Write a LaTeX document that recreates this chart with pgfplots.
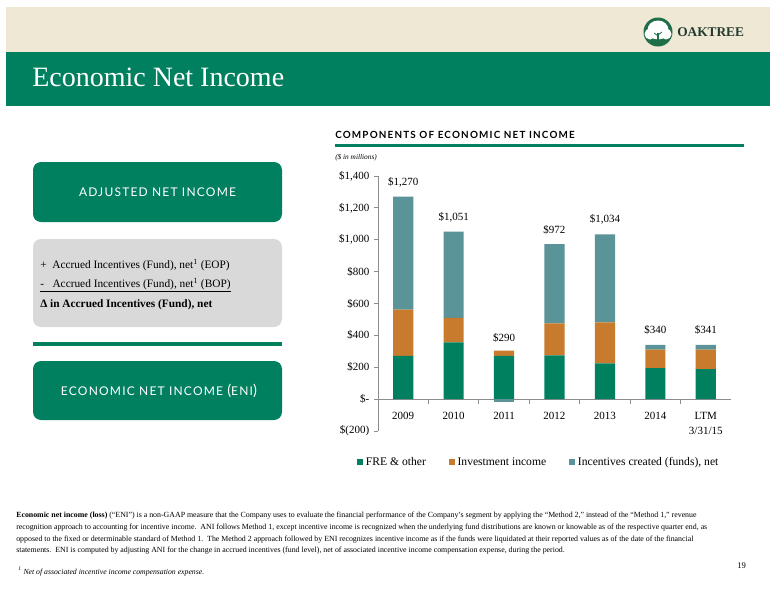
\documentclass[border=0pt]{standalone}
\usepackage{fontspec}
\setmainfont{Liberation Serif}
\newfontfamily\boxfont[LetterSpace=10]{Lato}
\newfontfamily\titlefont[LetterSpace=12]{Lato}
\usepackage{pgfplots}
\pgfplotsset{compat=1.18}
\usepackage{pgfplotstable}
\definecolor{oakgreen}{HTML}{00805F}
\definecolor{freg}{HTML}{00805F}
\definecolor{invor}{HTML}{C87B2C}
\definecolor{incteal}{HTML}{5A9398}
\definecolor{beige}{HTML}{EEE8D5}
\definecolor{boxgrey}{HTML}{D9D9D9}
\definecolor{axgrey}{HTML}{8C8C8C}
\definecolor{logogreen}{HTML}{1E6E48}
\definecolor{logotext}{HTML}{243B30}

\pgfplotstableread{
x fre inv inc tot lab
0 272 290 708 1270 1,270
1 356 154 541 1051 1,051
2 272 33 0 290 290
3 275 200 497 972 972
4 225 256 553 1034 1,034
5 194 116 30 340 340
6 188 122 31 341 341
}\enidata

\newcommand{\tfont}{\fontsize{8.25}{11.25}\selectfont}

\begin{document}
\begin{tikzpicture}
\begin{scope}[x=0.75pt,y=-0.75pt]
% page
\fill[white] (0,0) rectangle (776,600);
\fill[beige] (6,7) rectangle (770,52);
\fill[oakgreen] (6,52) rectangle (770,106);
\node[anchor=base west, text=white, inner sep=0pt, font=\fontsize{21}{24}\selectfont] at (32,86) {Economic Net Income};
% logo
\fill[logogreen] (658,32) circle (14.5);
\fill[white] (658,30) ellipse (10.5 and 9.5);
\fill[white] (650,34) circle (5.5);
\fill[white] (666,34) circle (5.5);
\fill[logogreen] (657.2,33) rectangle (658.8,43);
\draw[logogreen, line width=0.6pt] (658,36) -- (654,33);
\draw[logogreen, line width=0.6pt] (658,35) -- (662,32);
\node[anchor=west, text=logotext, inner sep=0pt, font=\fontsize{10}{12}\selectfont\bfseries] at (677,32) {OAKTREE};
% left boxes
\fill[oakgreen, rounded corners=6pt] (33,162) rectangle (282,222);
\node[text=white, font=\boxfont\fontsize{9}{11}\selectfont] at (157.5,192) {ADJUSTED NET INCOME};
\fill[boxgrey, rounded corners=6pt] (33,239) rectangle (282,327);
\node[anchor=base west, inner sep=0pt, font=\fontsize{8.5}{10}\selectfont] at (40,268) {+\ \ Accrued Incentives (Fund), net\textsuperscript{1} (EOP)};
\node[anchor=base west, inner sep=0pt, font=\fontsize{8.5}{10}\selectfont] at (40,287) {\underline{-\ \ \ Accrued Incentives (Fund), net\textsuperscript{1} (BOP)}};
\node[anchor=base west, inner sep=0pt, font=\fontsize{8.5}{10}\selectfont\bfseries] at (40,307) {Δ in Accrued Incentives (Fund), net};
\fill[oakgreen] (33,342) rectangle (282,346);
\fill[oakgreen, rounded corners=6pt] (33,361) rectangle (282,420);
\node[text=white, font=\boxfont\fontsize{9}{11}\selectfont] at (159,391) {ECONOMIC NET INCOME {\fontsize{11}{11}\selectfont(}ENI{\fontsize{11}{11}\selectfont)}};
% chart title
\node[anchor=west, inner sep=0pt, font=\titlefont\fontsize{7.4}{9}\selectfont\bfseries] at (335,135) {COMPONENTS OF ECONOMIC NET INCOME};
\fill[oakgreen] (335,144) rectangle (744,147);
\node[anchor=west, inner sep=0pt, font=\fontsize{5.5}{7}\selectfont\itshape] at (335,158) {(\$ in millions)};
% bottom text
\begin{scope}[every node/.style={anchor=base west, inner sep=0pt, font=\fontsize{5.9}{7}\selectfont}]
\node at (16,517) {\textbf{Economic net income (loss)} (``ENI'') is a non-GAAP measure that the Company uses to evaluate the financial performance of the Company's segment by applying the ``Method 2,'' instead of the ``Method 1,'' revenue};
\node at (16,529) {recognition approach to accounting for incentive income.\ \ ANI follows Method 1, except incentive income is recognized when the underlying fund distributions are known or knowable as of the respective quarter end, as};
\node at (16,541) {opposed to the fixed or determinable standard of Method 1.\ \ The Method 2 approach followed by ENI recognizes incentive income as if the funds were liquidated at their reported values as of the date of the financial};
\node at (16,552) {statements.\ \ ENI is computed by adjusting ANI for the change in accrued incentives (fund level), net of associated incentive income compensation expense, during the period.};
\node[font=\fontsize{5.8}{7}\selectfont\itshape] at (18,574) {\textsuperscript{1} Net of associated incentive income compensation expense.};
\node[font=\fontsize{6.5}{8}\selectfont] at (737,568) {19};
\end{scope}
\end{scope}

\begin{axis}[
  at={(283.5pt,-323.25pt)}, anchor=south west,
  scale only axis, width=264.75pt, height=191.25pt,
  xmin=-0.5, xmax=6.5, ymin=-200, ymax=1400,
  ybar stacked, bar width=0.4,
  axis y line=left, axis x line=middle,
  hide obscured x ticks=false, hide obscured y ticks=false,
  axis line style={-, draw=axgrey, line width=0.6pt},
  ytick={-200,0,200,400,600,800,1000,1200,1400},
  yticklabels={{\$(200)},{\$-},{\$200},{\$400},{\$600},{\$800},{\$1,000},{\$1,200},{\$1,400}},
  xtick={0,1,2,3,4,5,6},
  xticklabels={2009,2010,2011,2012,2013,2014,{LTM\\3/31/15}},
  x tick style={draw=none},
  y tick style={draw=axgrey, line width=0.6pt},
  tick align=outside, major tick length=3pt,
  tick label style={font=\tfont},
  xticklabel style={align=center, yshift=-3pt},
  legend style={at={(axis description cs:0.456,-0.122)}, anchor=center, draw=none, fill=none,
    legend columns=3, font=\fontsize{8.7}{10}\selectfont,
    nodes={text height=1.6ex, text depth=0.45ex},
    /tikz/every even column/.append style={column sep=15pt}},
  legend cell align=left,
]
\addplot[fill=freg, draw=none, legend image code/.code={\path[fill=freg] (0pt,-2.4pt) rectangle (4.8pt,2.4pt);}] table[x=x,y=fre]{\enidata};
\addlegendentry{FRE \& other}
\addplot[fill=invor, draw=none, legend image code/.code={\path[fill=invor] (0pt,-2.4pt) rectangle (4.8pt,2.4pt);}] table[x=x,y=inv]{\enidata};
\addlegendentry{Investment income}
\addplot[fill=incteal, draw=none, legend image code/.code={\path[fill=incteal] (0pt,-2.4pt) rectangle (4.8pt,2.4pt);}] table[x=x,y=inc]{\enidata};
\addlegendentry{Incentives created (funds), net}
\pgfplotsinvokeforeach{-0.5,0.5,1.5,2.5,3.5,4.5,5.5,6.5}{\draw[axgrey, line width=0.6pt] (axis cs:#1,0) -- ++(0pt,-3.5pt);}
\end{axis}

\begin{axis}[
  at={(283.5pt,-323.25pt)}, anchor=south west,
  scale only axis, width=264.75pt, height=191.25pt,
  xmin=-0.5, xmax=6.5, ymin=-200, ymax=1400,
  hide axis, ybar, bar width=0.4, bar shift=0pt,
]
\addplot[fill=incteal, draw=none] coordinates {(2,-15)};
\addplot[draw=none, fill=none, point meta=explicit symbolic, nodes near coords={\$\pgfplotspointmeta},
  every node near coord/.style={anchor=center, yshift=11pt, font=\tfont, text=black}] table[x=x,y=tot,meta=lab]{\enidata};
\end{axis}
\end{tikzpicture}
\end{document}
